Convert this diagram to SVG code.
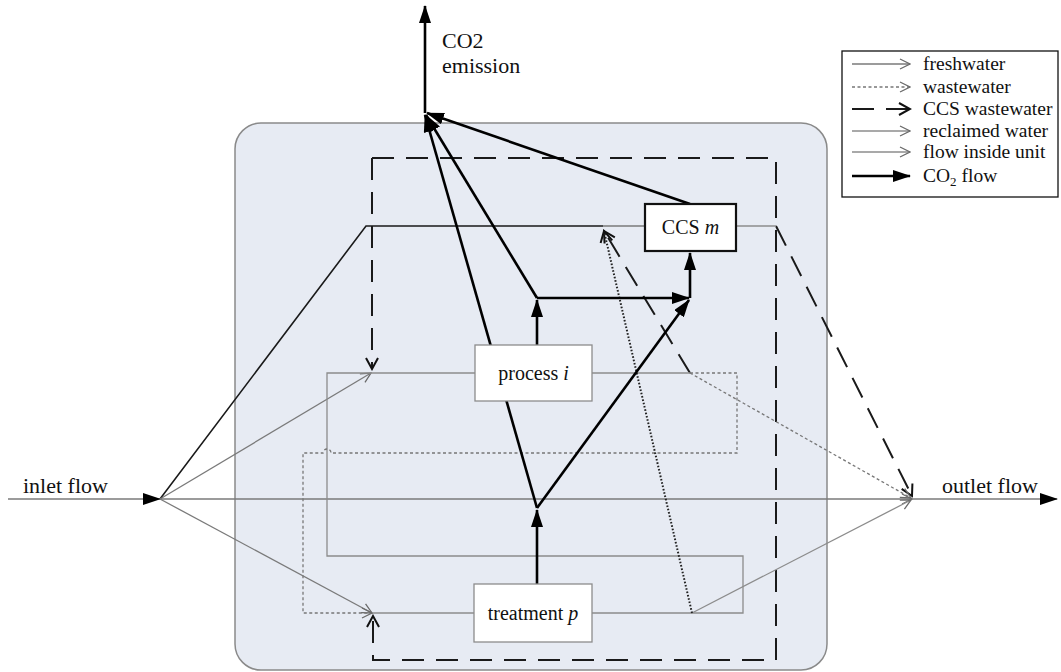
<svg xmlns="http://www.w3.org/2000/svg" width="1061" height="672" viewBox="0 0 1061 672">
  <style>
    text { font-family: "Liberation Serif", "Times New Roman", serif; fill: #111; }
    .lbl { font-size: 22px; }
    .node-text { font-size: 20px; }
    .leg { font-size: 19.5px; }
    .box { fill: #fff; stroke: #8c8c8c; stroke-width: 1.3; }
    .ccsbox { fill: #fff; stroke: #111; stroke-width: 2.2; }
    .fresh { fill: none; stroke: #7a7a7a; stroke-width: 1.3; }
    .dark { fill: none; stroke: #1a1a1a; stroke-width: 1.6; }
    .inner { fill: none; stroke: #8c8c8c; stroke-width: 1.3; }
    .reclaim { fill: none; stroke: #8c8c8c; stroke-width: 1.3; }
    .waste { fill: none; stroke: #777; stroke-width: 1.3; stroke-dasharray: 3 2.5; }
    .dots { fill: none; stroke: #222; stroke-width: 2; stroke-dasharray: 1.6 1.8; }
    .ccsw { fill: none; stroke: #1a1a1a; stroke-width: 2; stroke-dasharray: 22 12; }
    .co2 { fill: none; stroke: #000; stroke-width: 2.6; }
  </style>
  <defs>
    <marker id="tri" viewBox="0 0 18 12" refX="17" refY="6" markerWidth="18" markerHeight="12" markerUnits="userSpaceOnUse" orient="auto">
      <path d="M0,0 L18,6 L0,12 z" fill="#000"/>
    </marker>
    <marker id="chevGray" viewBox="0 0 12 12" refX="11" refY="6" markerWidth="12" markerHeight="12" markerUnits="userSpaceOnUse" orient="auto">
      <path d="M1,1 L11,6 L1,11" fill="none" stroke="#6a6a6a" stroke-width="1.3"/>
    </marker>
    <marker id="chevBlack" viewBox="0 0 14 14" refX="12" refY="7" markerWidth="14" markerHeight="14" markerUnits="userSpaceOnUse" orient="auto">
      <path d="M1,1 L12,7 L1,13" fill="none" stroke="#111" stroke-width="2"/>
    </marker>
  </defs>

  <!-- plant boundary -->
  <rect id="plant" x="235" y="123" width="592" height="547" rx="26" fill="#e7ebf3" stroke="#8a8a8a" stroke-width="1.5"/>

  <g id="connectors">
    <!-- CCS wastewater distribution loop -->
    <path class="ccsw" d="M372,158 L372,369" marker-end="url(#chevBlack)"/>
    <path class="ccsw" d="M372,158 L776,158 L776,660 L373,660 L373,616" marker-end="url(#chevBlack)"/>
    <path class="ccsw" d="M776,226 L912,496" marker-end="url(#chevBlack)"/>
    <path class="ccsw" d="M690,373 L604,231" marker-end="url(#chevBlack)"/>

    <!-- inlet / outlet -->
    <path class="fresh" d="M8,499 L160,499" marker-end="url(#tri)"/>
    <path class="fresh" d="M160,499 L912,499" marker-end="url(#chevGray)"/>
    <path class="fresh" d="M912,499 L1057,499" marker-end="url(#tri)"/>

    <!-- freshwater branches -->
    <path class="dark" d="M160,499 L366,226 L603,226"/>
    <path class="fresh" d="M603,226 L645,226"/>
    <path class="fresh" d="M160,499 L371,373" marker-end="url(#chevGray)"/>
    <path class="fresh" d="M160,499 L372,613" marker-end="url(#chevGray)"/>

    <!-- flows inside unit -->
    <path class="inner" d="M372,373 L475,373"/>
    <path class="inner" d="M592,373 L690,373"/>
    <path class="inner" d="M373,613 L474,613"/>
    <path class="inner" d="M736,226 L776,226"/>

    <!-- reclaimed water loop and discharge -->
    <path class="reclaim" d="M592,613 L743,613 L743,556 L327,556 L327,373 L372,373"/>
    <path class="reclaim" d="M692,613 L911,500" marker-end="url(#chevGray)"/>

    <!-- wastewater -->
    <path class="waste" d="M690,373 L737,373 L737,453 L331,453 A4,4 0 0 0 323,453 L303,453 L303,613 L372,613" marker-end="url(#chevGray)"/>
    <path class="waste" d="M690,373 L911,498" marker-end="url(#chevGray)"/>
    <path class="dots" d="M692,613 L604,231" marker-end="url(#chevBlack)"/>

    <!-- CO2 flows -->
    <path class="co2" d="M537,584 L537,510" marker-end="url(#tri)"/>
    <path class="co2" d="M537,508 L689,300" marker-end="url(#tri)"/>
    <path class="co2" d="M537,508 L425,115" marker-end="url(#tri)"/>
    <path class="co2" d="M537,345 L537,300" marker-end="url(#tri)"/>
    <path class="co2" d="M537,298 L689,298" marker-end="url(#tri)"/>
    <path class="co2" d="M537,298 L426,115" marker-end="url(#tri)"/>
    <path class="co2" d="M690,298 L690,253" marker-end="url(#tri)"/>
    <path class="co2" d="M690,204 L427,113" marker-end="url(#tri)"/>
    <path class="co2" d="M425,113 L425,6" marker-end="url(#tri)"/>
  </g>

  <g id="process">
    <rect class="box" x="475" y="345" width="117" height="56"/>
    <text class="node-text" x="533.5" y="380" text-anchor="middle">process <tspan font-style="italic">i</tspan></text>
  </g>
  <g id="treatment">
    <rect class="box" x="474" y="584" width="118" height="58"/>
    <text class="node-text" x="533" y="620" text-anchor="middle">treatment <tspan font-style="italic">p</tspan></text>
  </g>
  <g id="ccs">
    <rect class="ccsbox" x="645" y="204" width="91" height="47"/>
    <text class="node-text" x="690.5" y="234" text-anchor="middle" font-size="21">CCS <tspan font-style="italic">m</tspan></text>
  </g>

  <g id="labels">
    <text class="lbl" x="442" y="48">CO2</text>
    <text class="lbl" x="442" y="73">emission</text>
    <text class="lbl" x="23" y="493">inlet flow</text>
    <text class="lbl" x="942" y="493">outlet flow</text>
  </g>

  <g id="legend">
    <rect x="842" y="51" width="216" height="146" fill="#fff" stroke="#111" stroke-width="1.3"/>
    <path class="fresh" d="M852,64 L910,64" marker-end="url(#chevGray)"/>
    <text class="leg" x="923" y="70">freshwater</text>
    <path class="waste" d="M852,87 L910,87" marker-end="url(#chevGray)"/>
    <text class="leg" x="923" y="93">wastewater</text>
    <path class="ccsw" d="M852,109 L910,109" stroke-dasharray="27 9" marker-end="url(#chevBlack)"/>
    <text class="leg" x="923" y="115">CCS wastewater</text>
    <path class="reclaim" d="M852,131 L910,131" marker-end="url(#chevGray)"/>
    <text class="leg" x="923" y="137">reclaimed water</text>
    <path class="inner" d="M852,152 L910,152" marker-end="url(#chevGray)"/>
    <text class="leg" x="923" y="158">flow inside unit</text>
    <path class="co2" d="M852,176 L910,176" marker-end="url(#tri)"/>
    <text class="leg" x="923" y="182">CO<tspan font-size="13" dy="4">2</tspan><tspan dy="-4"> flow</tspan></text>
  </g>
</svg>
